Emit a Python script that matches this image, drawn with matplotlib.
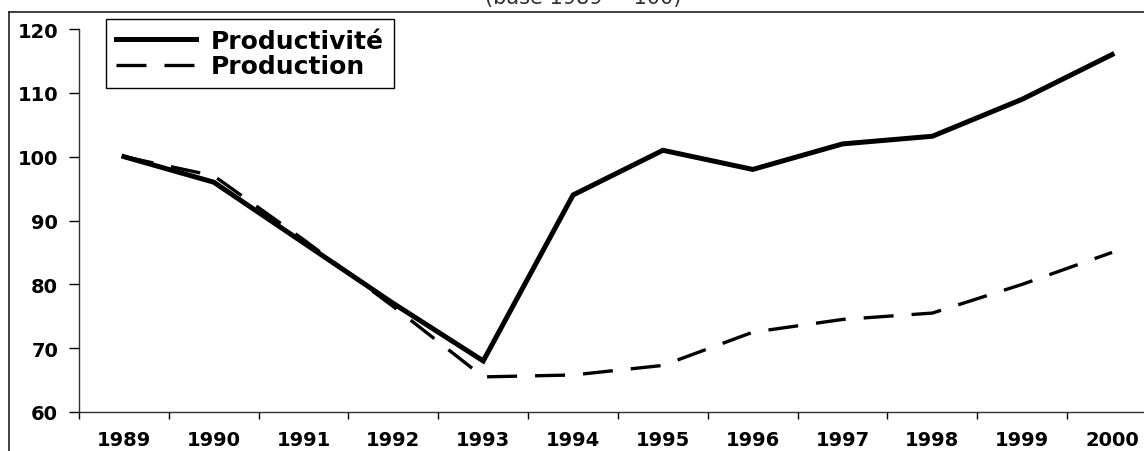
import matplotlib
matplotlib.use("Agg")
import matplotlib.pyplot as plt
from matplotlib.lines import Line2D
import numpy as np

# Data (base 1989 = 100)
years = ["1989", "1990", "1991", "1992", "1993", "1994",
         "1995", "1996", "1997", "1998", "1999", "2000"]
productivite = [100, 96, 86.5, 77, 68, 94, 101, 98, 102, 103.2, 109, 116]
production = [100, 97, 87, 76.5, 65.5, 65.8, 67.3, 72.5, 74.5, 75.5, 80, 85]

W, H = 1144, 452
plt.rcParams['font.family'] = ['DejaVu Sans']

fig = plt.figure(figsize=(W / 100, H / 100), dpi=100)

# axes placed in pixel terms (right edge runs past the image, as in the source)
left, right, bottom, top = 79, 1157, 413, 30
ax = fig.add_axes([left / W, 1 - bottom / H, (right - left) / W, (bottom - top) / H])

x = np.arange(len(years))
ax.plot(x, productivite, color='black', lw=3.6, label='Productivité',
        solid_joinstyle='miter')
ax.plot(x, production, color='black', lw=2.4, dashes=(9, 5.4),
        label='Production')

ax.set_xlim(-0.5, len(years) - 0.5)
ax.set_ylim(60, 120)
ax.set_yticks(np.arange(60, 121, 10))

# category labels centred, tick marks on the boundaries
ax.set_xticks(x)
ax.set_xticklabels(years)
ax.set_xticks(np.arange(-0.5, len(years), 1), minor=True)
ax.tick_params(axis='x', which='major', length=0, pad=13, labelsize=14)
ax.tick_params(axis='x', which='minor', length=5, direction='out', width=1)
ax.tick_params(axis='y', length=7, width=1, pad=8, labelsize=14)
for lab in ax.get_xticklabels() + ax.get_yticklabels():
    lab.set_fontweight('bold')

for side in ['top', 'right']:
    ax.spines[side].set_visible(False)
for side in ['left', 'bottom']:
    ax.spines[side].set_color('#303030')
    ax.spines[side].set_linewidth(1)

leg = ax.legend(loc='upper left', bbox_to_anchor=(106 / W, 1 - 20 / H),
                bbox_transform=fig.transFigure, borderaxespad=0,
                fancybox=False, edgecolor='black', framealpha=1,
                prop={'weight': 'bold', 'size': 18}, handlelength=3.2,
                handletextpad=0.6, labelspacing=0.05, borderpad=0.4)
leg.get_frame().set_linewidth(1)

# outer chart frame (left and top edges visible)
fig.add_artist(Line2D([9 / W, 9 / W], [0, 1 - 13 / H], color='#202020',
                      lw=1.2, transform=fig.transFigure))
fig.add_artist(Line2D([9 / W, 1], [1 - 13 / H, 1 - 13 / H], color='#202020',
                      lw=1.2, transform=fig.transFigure))

# subtitle, mostly cut off at the top of the image (as in the source)
fig.text(583 / W, 1 - 4 / H, "(base 1989 = 100)", ha='center', va='baseline',
         fontsize=15, color='#303030')

fig.savefig("out.png", dpi=100)
